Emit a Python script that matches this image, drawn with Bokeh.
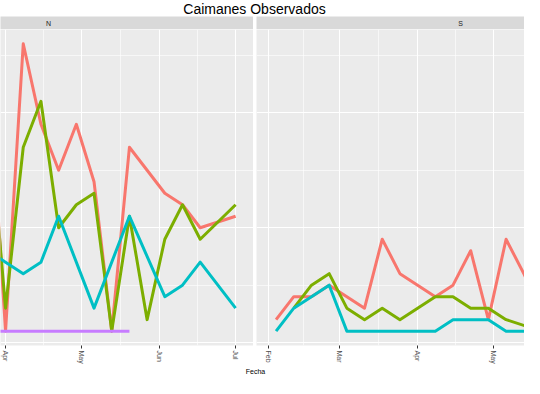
import pandas as pd
from bokeh.plotting import figure
from bokeh.layouts import row, column
from bokeh.models import Range1d, FixedTicker, DatetimeTickFormatter, Label
from bokeh.embed import file_html
from bokeh.resources import INLINE

# ---------------- data ----------------
title_text = "Caimanes Observados"
x_label = "Fecha"
facet_labels = ["N", "S"]
strip_label_date = "2014-04-18"

series_colors = ["#F8766D", "#7CAE00", "#00BFC4", "#C77CFF"]

# Panel N
n_red_dates = ["2014-03-25", "2014-04-01", "2014-04-08", "2014-04-15", "2014-04-22", "2014-04-29",
               "2014-05-06", "2014-05-13", "2014-05-20", "2014-05-27", "2014-06-03", "2014-06-10",
               "2014-06-17", "2014-07-01"]
n_red = [25, 1, 26, 19, 15, 19, 14, 1, 17, 15, 13, 12, 10, 11]
n_green_dates = n_red_dates
n_green = [21, 3, 17, 21, 10, 12, 13, 1, 11, 2, 9, 12, 9, 12]
n_teal_dates = ["2014-03-25", "2014-04-01", "2014-04-08", "2014-04-15", "2014-04-22",
                "2014-05-06", "2014-05-20", "2014-06-03", "2014-06-10", "2014-06-17", "2014-07-01"]
n_teal = [8, 7, 6, 7, 11, 3, 11, 4, 5, 7, 3]
n_purple_dates = ["2014-03-25", "2014-04-01", "2014-04-08", "2014-04-15", "2014-04-22",
                  "2014-04-29", "2014-05-06", "2014-05-13", "2014-05-20"]
n_purple = [1, 1, 1, 1, 1, 1, 1, 1, 1]

# Panel S
s_red_dates = ["2014-02-04", "2014-02-11", "2014-02-18", "2014-02-25", "2014-03-04", "2014-03-11",
               "2014-03-18", "2014-03-25", "2014-04-01", "2014-04-08", "2014-04-15", "2014-04-22",
               "2014-04-29", "2014-05-06", "2014-05-13", "2014-05-20"]
s_red = [2, 4, 4, 5, 4, 3, 9, 6, 5, 4, 5, 8, 2, 9, 6, 3]
s_green_dates = ["2014-02-11", "2014-02-18", "2014-02-25", "2014-03-04", "2014-03-11",
                 "2014-03-18", "2014-03-25", "2014-04-01", "2014-04-08", "2014-04-15", "2014-04-22",
                 "2014-04-29", "2014-05-06", "2014-05-20"]
s_green = [3, 5, 6, 3, 2, 3, 2, 3, 4, 4, 3, 3, 2, 1]
s_teal_dates = s_red_dates
s_teal = [1, 3, 4, 5, 1, 1, 1, 1, 1, 1, 2, 2, 2, 1, 1, 1]

n_range = ("2014-03-30 00:00", "2014-07-08 02:00")
s_range = ("2014-01-27 06:00", "2014-05-13 07:00")
n_month_ticks = ["2014-04-01", "2014-05-01", "2014-06-01", "2014-07-01"]
n_minor_ticks = ["2014-04-16", "2014-05-16 12:00", "2014-06-16"]
s_month_ticks = ["2014-02-01", "2014-03-01", "2014-04-01", "2014-05-01"]
s_minor_ticks = ["2014-02-15", "2014-03-16 12:00", "2014-04-16"]
y_major = [0, 10, 20]
y_minor = [5, 15, 25]
y_limits = (-0.25, 27.25)

FONT = "Liberation Sans"
TOTAL_W = 524


def ms(s):
    return pd.Timestamp(s).value / 1e6


def make_panel(xlim, series, majors, minors, strip_text, w):
    xr = Range1d(ms(xlim[0]), ms(xlim[1]))
    strip = figure(frame_width=w, frame_height=13, x_range=xr, y_range=Range1d(0, 1),
                   x_axis_location=None, y_axis_location=None, toolbar_location=None,
                   output_backend="svg", min_border=0, background_fill_color="#D9D9D9",
                   border_fill_color="white", outline_line_color=None)
    strip.grid.visible = False
    strip.add_layout(Label(x=ms(strip_label_date), y=0.5, text=strip_text, text_align="center",
                           text_baseline="middle", text_font_size="7px", text_color="#1A1A1A",
                           text_font=FONT))

    p = figure(frame_width=w, frame_height=316, x_range=xr, y_range=Range1d(*y_limits),
               x_axis_type="datetime", y_axis_location=None, toolbar_location=None,
               output_backend="svg", min_border=0, background_fill_color="#EBEBEB",
               border_fill_color="white", outline_line_color=None)
    for (dates, vals), col in zip(series, series_colors):
        p.line(x=pd.to_datetime(dates), y=vals, line_color=col, line_width=3, line_join="round")

    xt = FixedTicker(ticks=[ms(t) for t in majors], minor_ticks=[ms(t) for t in minors])
    p.xaxis.ticker = xt
    p.xgrid.ticker = xt
    p.ygrid.ticker = FixedTicker(ticks=y_major, minor_ticks=y_minor)
    for g in (p.xgrid, p.ygrid):
        g.grid_line_color = "white"
        g.grid_line_width = 1.1
        g.minor_grid_line_color = "white"
        g.minor_grid_line_width = 0.6
    fmt = "%b"
    p.xaxis.formatter = DatetimeTickFormatter(
        microseconds=fmt, milliseconds=fmt, seconds=fmt, minsec=fmt, minutes=fmt,
        hourmin=fmt, hours=fmt, days=fmt, months=fmt, years=fmt)
    p.xaxis.axis_label = None
    p.xaxis.axis_label_standoff = 0
    p.xaxis.major_label_orientation = "vertical"
    p.xaxis.major_label_text_font_size = "7px"
    p.xaxis.major_label_text_color = "#4D4D4D"
    p.xaxis.major_label_text_font = FONT
    p.xaxis.major_label_standoff = 2
    p.xaxis.axis_line_color = None
    p.xaxis.major_tick_in = 0
    p.xaxis.major_tick_out = 3
    p.xaxis.minor_tick_in = 0
    p.xaxis.minor_tick_out = 0
    p.xaxis.major_tick_line_color = "#333333"
    p.xaxis.minor_tick_line_color = None
    return column(strip, p, spacing=0)


left = make_panel(n_range,
                  [(n_red_dates, n_red), (n_green_dates, n_green),
                   (n_teal_dates, n_teal), (n_purple_dates, n_purple)],
                  n_month_ticks, n_minor_ticks, facet_labels[0], 253)
right = make_panel(s_range,
                   [(s_red_dates, s_red), (s_green_dates, s_green), (s_teal_dates, s_teal)],
                   s_month_ticks, s_minor_ticks, facet_labels[1], 268)


def text_fig(h, txt, size, x_center, y_center_from_top):
    f = figure(width=TOTAL_W, height=h, x_range=Range1d(0, TOTAL_W), y_range=Range1d(0, h),
               x_axis_location=None, y_axis_location=None, toolbar_location=None,
               output_backend="svg", min_border=0, outline_line_color=None,
               background_fill_color="white", border_fill_color="white")
    f.grid.visible = False
    f.add_layout(Label(x=x_center, y=h - y_center_from_top, text=txt,
                       text_align="center", text_baseline="middle", text_font_size=size,
                       text_color="black", text_font=FONT))
    return f


title_fig = text_fig(16, title_text, "14px", 254, 8)
xlab_fig = text_fig(12, x_label, "7px", 255, 5)

layout = column(title_fig, row(left, right, spacing=3), xlab_fig, spacing=0)

open("out.html", "w").write(file_html(layout, INLINE))
